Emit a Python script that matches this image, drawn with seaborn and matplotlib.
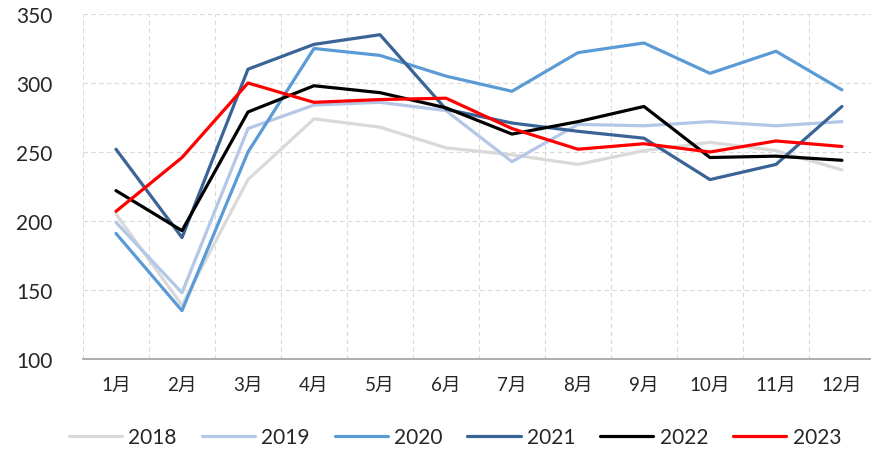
import numpy as np
import pandas as pd
import seaborn as sns
import matplotlib.pyplot as plt

months = ['1月', '2月', '3月', '4月', '5月', '6月', '7月', '8月', '9月', '10月', '11月', '12月']
years = ['2018', '2019', '2020', '2021', '2022', '2023']

v2018 = [205, 139, 230, 274, 268, 253, 248, 241, 251, 257, 251, 237]
v2019 = [199, 148, 267, 284, 286, 280, 243, 270, 269, 272, 269, 272]
v2020 = [191, 135, 250, 325, 320, 305, 294, 322, 329, 307, 323, 295]
v2021 = [252, 188, 310, 328, 335, 281, 271, 265, 260, 230, 241, 283]
v2022 = [222, 193, 279, 298, 293, 282, 263, 272, 283, 246, 247, 244]
v2023 = [207, 246, 300, 286, 288, 289, 267, 252, 256, 250, 258, 254]

colors = ['#d9d9d9', '#b4c7e7', '#5b9bd5', '#3a6396', '#000000', '#ff0000']

all_vals = [v2018, v2019, v2020, v2021, v2022, v2023]
rows = []
for y, vals in zip(years, all_vals):
    for m, v in zip(months, vals):
        rows.append({'month': m, 'year': y, 'value': v})
df = pd.DataFrame(rows)

sns.set_style('white')
plt.rcParams['font.family'] = ['Lato', 'Noto Sans CJK SC', 'DejaVu Sans']

fig = plt.figure(figsize=(8.71, 4.52), dpi=100)
ax = fig.add_axes([83 / 871, 1 - 360 / 452, 1 - 83 / 871, (360 - 15) / 452])

sns.lineplot(data=df, x='month', y='value', hue='year', palette=colors,
             linewidth=2.3, sort=False, ax=ax)

ax.set_ylim(100, 350)
ax.set_yticks([100, 150, 200, 250, 300, 350])
ax.set_xlim(-0.5, 11.44)
ax.set_xticks(np.arange(-0.5, 11.5, 1), minor=True)
ax.grid(False)
ax.grid(True, which='minor', axis='x', color='#d9d9d9', linestyle=(0, (4, 3)), linewidth=0.8)
ax.grid(True, which='major', axis='y', color='#d9d9d9', linestyle=(0, (4, 3)), linewidth=0.8)
ax.set_axisbelow(True)

for s in ['top', 'right', 'left']:
    ax.spines[s].set_visible(False)
ax.spines['bottom'].set_color('#a6a6a6')
ax.spines['bottom'].set_linewidth(1.3)

ax.tick_params(axis='both', which='both', length=0)
ax.tick_params(axis='y', labelsize=15, pad=22)
ax.tick_params(axis='x', labelsize=13.5, pad=12)
ax.set_xlabel('')
ax.set_ylabel('')

handles, labels = ax.get_legend_handles_labels()
ax.legend(handles, labels, loc='center', bbox_to_anchor=(455 / 871, 1 - 438 / 452),
          bbox_transform=fig.transFigure, ncol=6, frameon=False, fontsize=15,
          handlelength=2.55, handletextpad=0.3, columnspacing=1.2)

fig.savefig('out.png', dpi=100)
